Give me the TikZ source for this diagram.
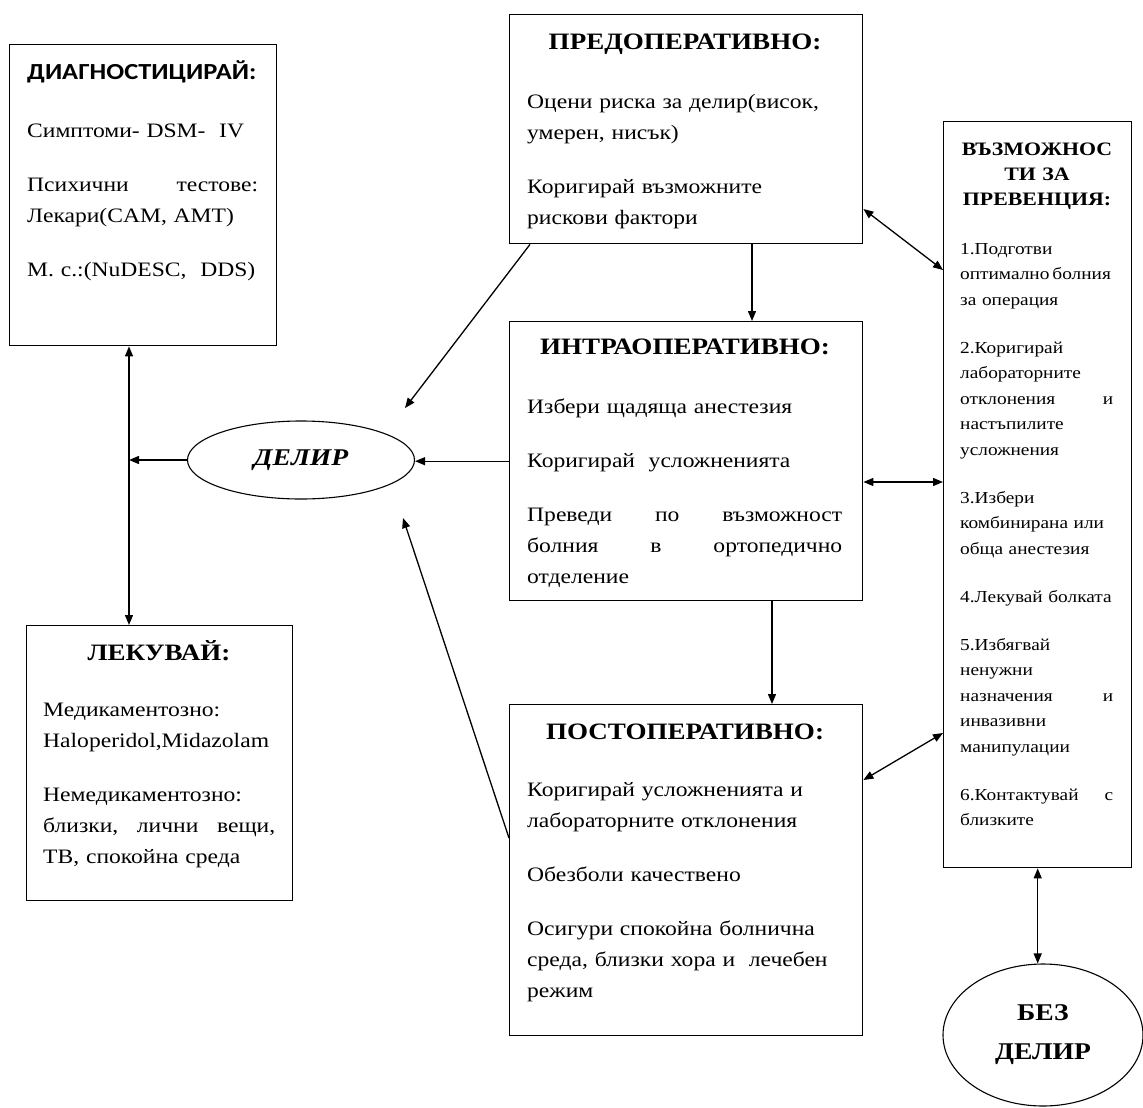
\documentclass[tikz,border=0pt]{standalone}
\usepackage{fontspec}
\setmainfont{Liberation Serif}[FakeStretch=1.15]
\newfontfamily\calibri{Carlito}[FakeStretch=1.15]
\usetikzlibrary{arrows.meta,shapes.geometric,calc}
% stretch that beats the ragged-right glue: spreads a line to the full width
\newcommand\jfill{\hspace{0pt plus 1filll}}

\begin{document}
\begin{tikzpicture}[x=1pt,y=-1pt,
  box/.style={draw, line width=1.4pt, rectangle, inner sep=0pt, anchor=north west},
  body/.style={anchor=base west, inner sep=0pt, align=left, font=\fontsize{20.5}{31}\selectfont},
  small/.style={anchor=base west, inner sep=0pt, align=left, font=\fontsize{16.8}{25.5}\selectfont},
  heading/.style={anchor=base, inner sep=0pt, font=\bfseries\fontsize{23.5}{27}\selectfont},
  arr/.style={line width=1.3pt, -{Triangle[length=10pt,width=8pt]}},
  biarr/.style={line width=1.3pt, {Triangle[length=10pt,width=8pt]}-{Triangle[length=10pt,width=8pt]}},
]
\useasboundingbox[fill=white] (0,0) rectangle (1143,1108);

% ---------- boxes ----------
\node[box, minimum width=267pt, minimum height=301pt] (diag)  at (9,44)   {};
\node[box, minimum width=266pt, minimum height=275pt] (treat) at (26,625) {};
\node[box, minimum width=353pt, minimum height=229pt] (pre)   at (509,14) {};
\node[box, minimum width=353pt, minimum height=279pt] (intra) at (509,321) {};
\node[box, minimum width=353pt, minimum height=331pt] (post)  at (509,704) {};
\node[box, minimum width=188pt, minimum height=746pt] (prev)  at (943,121) {};

% ---------- ellipses ----------
\node[draw, ellipse, line width=1.1pt, minimum width=227pt, minimum height=78pt,
      font=\bfseries\itshape\fontsize{24}{28}\selectfont] (delir) at (301,460) {ДЕЛИР};
\node[draw, ellipse, line width=1.1pt, minimum width=200pt, minimum height=142pt,
      align=center, font=\bfseries\fontsize{24}{39}\selectfont] (nodel) at (1043,1035) {БЕЗ\\ДЕЛИР};

% ---------- diagnosis ----------
\node[anchor=base west, inner sep=0pt, font=\calibri\bfseries\fontsize{23}{27}\selectfont]
  (diagT) at (27,79) {ДИАГНОСТИЦИРАЙ:};
\node[body, text width=231pt] (diagB) at (27,137) {%
  Симптоми- DSM-\ \ IV\\[23pt]
  Психични\jfill тестове:\\
  Лекари(CAM, AMT)\\[23pt]
  \mbox{М. с.:(NuDESC,\ \ DDS)}};

% ---------- treatment ----------
\node[heading] (treatT) at (159,660) {ЛЕКУВАЙ:};
\node[body, text width=232pt] (treatB) at (43,716) {%
  Медикаментозно:\\
  Haloperidol,Midazolam\\[23pt]
  Немедикаментозно:\\
  близки,\jfill лични\jfill вещи,\\
  ТВ, спокойна среда};

% ---------- pre-operative ----------
\node[heading] (preT) at (685,49) {ПРЕДОПЕРАТИВНО:};
\node[body, text width=315pt] (preB) at (527,108) {%
  Оцени риска за делир(висок,\\
  умерен, нисък)\\[23pt]
  Коригирай възможните\\
  рискови фактори};

% ---------- intra-operative ----------
\node[heading] (intraT) at (685,354) {ИНТРАОПЕРАТИВНО:};
\node[body, text width=315pt] (intraB) at (527,413) {%
  Избери щадяща анестезия\\[23pt]
  Коригирай\ \ усложненията\\[23pt]
  Преведи\jfill по\jfill възможност\\
  болния\jfill в\jfill ортопедично\\
  отделение};

% ---------- post-operative ----------
\node[heading] (postT) at (685,739) {ПОСТОПЕРАТИВНО:};
\node[body, text width=315pt] (postB) at (527,796) {%
  Коригирай усложненията и\\
  лабораторните отклонения\\[23pt]
  Обезболи качествено\\[23pt]
  Осигури спокойна болнична\\
  среда, близки хора и\ \ лечебен\\
  режим};

% ---------- prevention ----------
\node[anchor=base, inner sep=0pt, align=center, text width=180pt,
      font=\bfseries\fontsize{19}{25}\selectfont] (prevT) at (1037,155)
  {ВЪЗМОЖНОС\\ТИ ЗА\\ПРЕВЕНЦИЯ:};
\node[small, text width=153pt] (prevB) at (960,254) {%
  1.Подготви\\
  \mbox{оптимално\hspace{3pt}болния}\\
  за операция\\[22.5pt]
  2.Коригирай\\
  лабораторните\\
  отклонения\jfill и\\
  настъпилите\\
  усложнения\\[22.5pt]
  3.Избери\\
  \mbox{комбинирана или}\\
  обща анестезия\\[22.5pt]
  \mbox{4.Лекувай болката}\\[22.5pt]
  5.Избягвай\\
  ненужни\\
  назначения\jfill и\\
  инвазивни\\
  манипулации\\[22.5pt]
  6.Контактувай\jfill с\\
  близките};

% ---------- connectors ----------
\coordinate (vx) at (129,0);
\coordinate (preOut) at ($(pre.south west)+(21,0)$);
\coordinate (preEnd) at (405,408);
\coordinate (postOut) at ($(post.north west)+(0,134)$);
\coordinate (postEnd) at (403,518);
\coordinate (xA) at (752,0);
\coordinate (xB) at (772,0);

\draw[biarr] (diag.south -| vx) -- (treat.north -| vx);
\draw[arr] (delir.west) -- (delir.west -| vx);
\draw[arr] (intra.west) -- (intra.west -| delir.east);
\draw[arr] (preOut) -- (preEnd);
\draw[arr] (postOut) -- (postEnd);
\draw[arr] (pre.south -| xA) -- (intra.north -| xA);
\draw[arr] (intra.south -| xB) -- (post.north -| xB);
\draw[biarr] ($(pre.north east)+(0,195)$) -- ($(prev.north west)+(0,149)$);
\draw[biarr] ($(intra.north east)+(0,161)$) -- ($(prev.north west)+(0,361)$);
\draw[biarr] ($(post.north east)+(0,76)$) -- ($(prev.north west)+(0,612)$);
\draw[biarr] (prev.south) -- (prev.south |- nodel.north);
\end{tikzpicture}
\end{document}
